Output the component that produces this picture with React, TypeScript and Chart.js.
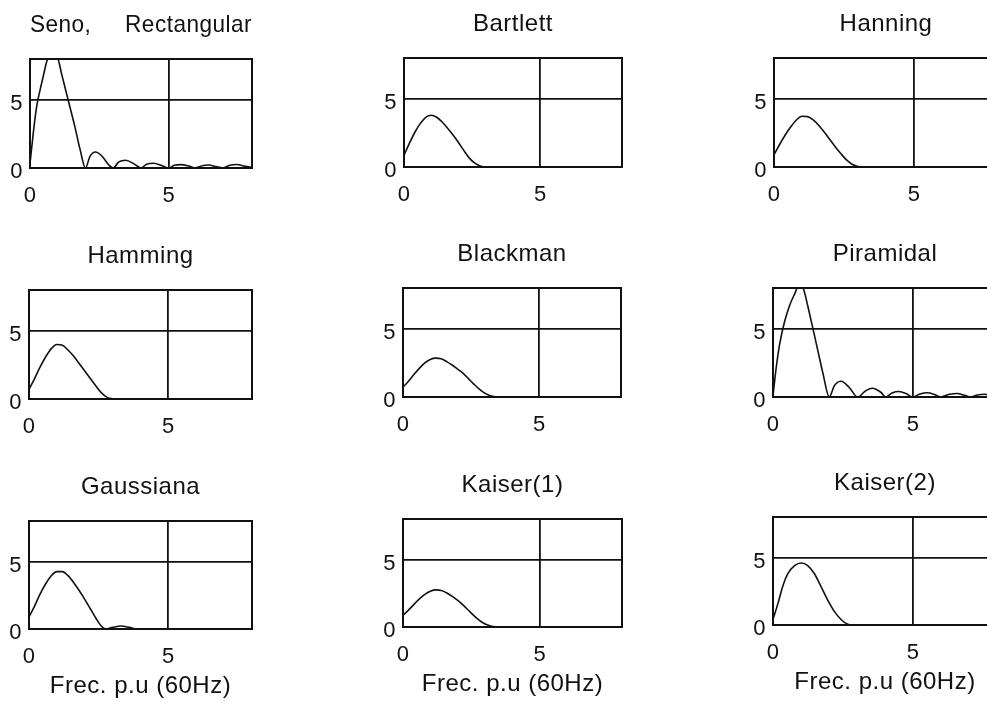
import React, { useEffect, useRef } from "react";
import { Chart, registerables } from "chart.js";

Chart.register(...registerables);

const FONT = '"Liberation Sans", Arial, Helvetica, sans-serif';
const INK = "#111";

// Axis ranges and tick values shared by every panel
const freqRange = [0, 8];
const magRange = [0, 8];
const xTickValues = [0, 5];
const yTickValues = [0, 5];
const xAxisTitle = "Frec. p.u (60Hz)";

// Spectrum magnitudes for each window (frequency in p.u. of 60 Hz)
const rectFreq = [0, 0.12, 0.24, 0.36, 0.48, 0.6, 0.8, 1.0, 1.14, 1.38, 1.62, 1.8, 2.0, 2.16, 2.36, 2.58, 2.85, 3.0, 3.2, 3.45, 3.75, 4.0, 4.2, 4.45, 4.75, 5.0, 5.2, 5.45, 5.75, 5.95, 6.2, 6.45, 6.7, 6.95, 7.2, 7.45, 7.75, 8.0];
const rectMag = [0.3, 2.6, 4.5, 5.7, 6.75, 7.8, 8.8, 8.1, 6.9, 4.95, 3.0, 1.4, 0, 0.85, 1.17, 0.9, 0.2, 0, 0.45, 0.57, 0.3, 0, 0.28, 0.35, 0.18, 0, 0.2, 0.25, 0.12, 0, 0.17, 0.22, 0.1, 0, 0.2, 0.26, 0.12, 0.05];

const bartFreq = [0, 0.2, 0.4, 0.6, 0.8, 1.0, 1.2, 1.4, 1.6, 1.8, 2.0, 2.2, 2.4, 2.6, 2.8, 3.0, 8.0];
const bartMag = [0.85, 1.75, 2.55, 3.2, 3.65, 3.8, 3.65, 3.3, 2.85, 2.35, 1.8, 1.2, 0.65, 0.28, 0.07, 0, 0];

const hannFreq = [0, 0.2, 0.4, 0.6, 0.8, 1.0, 1.2, 1.4, 1.6, 1.8, 2.0, 2.2, 2.4, 2.6, 2.8, 3.0, 3.2, 8.0];
const hannMag = [0.9, 1.65, 2.35, 2.95, 3.45, 3.72, 3.7, 3.45, 3.05, 2.55, 2.0, 1.45, 0.95, 0.5, 0.18, 0.03, 0, 0];

const hammFreq = [0, 0.2, 0.4, 0.6, 0.8, 1.0, 1.2, 1.4, 1.6, 1.8, 2.0, 2.2, 2.4, 2.6, 2.8, 3.0, 3.2, 8.0];
const hammMag = [0.7, 1.5, 2.35, 3.1, 3.7, 4.0, 3.95, 3.6, 3.15, 2.6, 2.05, 1.5, 0.95, 0.45, 0.12, 0.02, 0, 0];

const blackFreq = [0, 0.2, 0.4, 0.6, 0.8, 1.0, 1.2, 1.4, 1.6, 1.8, 2.0, 2.2, 2.4, 2.6, 2.8, 3.0, 3.2, 3.4, 3.6, 8.0];
const blackMag = [0.72, 1.15, 1.65, 2.1, 2.5, 2.75, 2.85, 2.8, 2.6, 2.35, 2.05, 1.75, 1.35, 0.95, 0.58, 0.28, 0.1, 0.02, 0, 0];

const piraFreq = [0, 0.12, 0.24, 0.41, 0.59, 0.77, 0.95, 1.1, 1.24, 1.42, 1.6, 1.78, 2.01, 2.19, 2.43, 2.72, 3.02, 3.32, 3.55, 3.85, 4.03, 4.25, 4.5, 4.75, 4.98, 5.25, 5.51, 5.75, 5.98, 6.3, 6.58, 6.85, 7.05, 7.3, 7.55, 7.8, 8.0];
const piraMag = [0.1, 2.24, 3.9, 5.5, 6.7, 7.55, 8.3, 7.85, 6.7, 5.07, 3.42, 1.77, 0, 0.83, 1.16, 0.71, 0, 0.47, 0.64, 0.35, 0, 0.3, 0.4, 0.25, 0, 0.22, 0.31, 0.2, 0, 0.2, 0.26, 0.12, 0, 0.15, 0.2, 0.1, 0.02];

const gaussFreq = [0, 0.2, 0.4, 0.6, 0.8, 1.0, 1.2, 1.4, 1.6, 1.8, 2.0, 2.2, 2.4, 2.6, 2.75, 3.0, 3.3, 3.6, 3.85, 8.0];
const gaussMag = [0.9, 1.7, 2.6, 3.35, 3.95, 4.25, 4.25, 3.95, 3.45, 2.85, 2.2, 1.5, 0.8, 0.2, 0, 0.12, 0.22, 0.12, 0, 0];

const kaiser1Freq = [0, 0.2, 0.4, 0.6, 0.8, 1.0, 1.2, 1.4, 1.6, 1.8, 2.0, 2.2, 2.4, 2.6, 2.8, 3.0, 3.2, 3.4, 3.6, 8.0];
const kaiser1Mag = [0.86, 1.25, 1.68, 2.08, 2.42, 2.65, 2.75, 2.7, 2.52, 2.27, 1.97, 1.62, 1.22, 0.82, 0.47, 0.22, 0.08, 0.02, 0, 0];

const kaiser2Freq = [0, 0.18, 0.36, 0.53, 0.77, 1.01, 1.24, 1.48, 1.72, 1.95, 2.19, 2.43, 2.67, 2.84, 8.0];
const kaiser2Mag = [0.41, 1.62, 2.95, 3.8, 4.4, 4.59, 4.4, 3.8, 2.83, 1.86, 1.01, 0.41, 0.05, 0, 0];

// Panel frame geometry (plot-area box in page pixels)
const TITLE_H = 55;
const LEFT_W = 30;
const RIGHT_PAD = 2;
const BOTTOM_H = 40;
const BOTTOM_H_TITLED = 75;

type PanelSpec = {
  title: string;
  freq: number[];
  mag: number[];
  left: number;
  top: number;
  width: number;
  height: number;
  xTitle: boolean;
};

const panels: PanelSpec[] = [
  { title: "Seno,     Rectangular", freq: rectFreq, mag: rectMag, left: 30, top: 58, width: 222, height: 110, xTitle: false },
  { title: "Bartlett", freq: bartFreq, mag: bartMag, left: 404, top: 57, width: 218, height: 110, xTitle: false },
  { title: "Hanning", freq: hannFreq, mag: hannMag, left: 774, top: 57, width: 224, height: 110, xTitle: false },
  { title: "Hamming", freq: hammFreq, mag: hammMag, left: 29, top: 289, width: 223, height: 110, xTitle: false },
  { title: "Blackman", freq: blackFreq, mag: blackMag, left: 403, top: 287, width: 218, height: 110, xTitle: false },
  { title: "Piramidal", freq: piraFreq, mag: piraMag, left: 773, top: 287, width: 224, height: 110, xTitle: false },
  { title: "Gaussiana", freq: gaussFreq, mag: gaussMag, left: 29, top: 520, width: 223, height: 109, xTitle: true },
  { title: "Kaiser(1)", freq: kaiser1Freq, mag: kaiser1Mag, left: 403, top: 518, width: 219, height: 109, xTitle: true },
  { title: "Kaiser(2)", freq: kaiser2Freq, mag: kaiser2Mag, left: 773, top: 516, width: 224, height: 109, xTitle: true },
];

// Full box around the plot area plus slightly wider letter spacing for labels
const framePlugin = {
  id: "frame",
  beforeDraw(chart: any) {
    chart.ctx.letterSpacing = "0.5px";
  },
  beforeDatasetsDraw(chart: any) {
    const { ctx, chartArea: a } = chart;
    ctx.save();
    ctx.strokeStyle = INK;
    ctx.lineWidth = 2;
    ctx.strokeRect(a.left, a.top, a.right - a.left, a.bottom - a.top);
    ctx.restore();
  },
};

function Panel({ spec }: { spec: PanelSpec }) {
  const ref = useRef<HTMLCanvasElement | null>(null);
  const bottomH = spec.xTitle ? BOTTOM_H_TITLED : BOTTOM_H;
  const cw = LEFT_W + spec.width + RIGHT_PAD;
  const ch = TITLE_H + spec.height + bottomH;

  useEffect(() => {
    if (!ref.current) return;
    const chart = new Chart(ref.current, {
      type: "line",
      data: {
        datasets: [
          {
            data: spec.freq.map((f, i) => ({ x: f, y: spec.mag[i] })),
            borderColor: INK,
            borderWidth: 1.6,
            pointRadius: 0,
            cubicInterpolationMode: "monotone",
            fill: false,
          },
        ],
      },
      options: {
        responsive: false,
        animation: false,
        devicePixelRatio: 1,
        events: [],
        layout: { padding: { top: 0, left: 0, right: RIGHT_PAD, bottom: 0 } },
        plugins: {
          legend: { display: false },
          tooltip: { enabled: false },
          title: {
            display: true,
            text: spec.title,
            color: INK,
            fullSize: false,
            font: { family: FONT, size: 24, weight: "normal", lineHeight: 1 },
            padding: { top: 10, bottom: 22 },
          },
        },
        scales: {
          x: {
            type: "linear",
            min: freqRange[0],
            max: freqRange[1],
            afterBuildTicks: (s: any) => {
              s.ticks = xTickValues.map((v) => ({ value: v }));
            },
            afterFit: (s: any) => {
              s.height = bottomH;
            },
            grid: { color: INK, lineWidth: 1.8, drawTicks: false },
            border: { display: false },
            ticks: {
              color: INK,
              font: { family: FONT, size: 22 },
              padding: 15,
              maxRotation: 0,
              autoSkip: false,
            },
            title: {
              display: spec.xTitle,
              text: xAxisTitle,
              color: INK,
              font: { family: FONT, size: 24, lineHeight: 1 },
              padding: { top: 0, bottom: 6 },
            },
          },
          y: {
            type: "linear",
            min: magRange[0],
            max: magRange[1],
            afterBuildTicks: (s: any) => {
              s.ticks = yTickValues.map((v) => ({ value: v }));
            },
            afterFit: (s: any) => {
              s.width = LEFT_W;
            },
            grid: { color: INK, lineWidth: 1.8, drawTicks: false },
            border: { display: false },
            ticks: {
              color: INK,
              font: { family: FONT, size: 22 },
              padding: 7,
              labelOffset: 4,
              autoSkip: false,
            },
          },
        },
      },
      plugins: [framePlugin],
    } as any);
    return () => chart.destroy();
  }, [spec, bottomH]);

  return (
    <canvas
      ref={ref}
      width={cw}
      height={ch}
      style={{
        position: "absolute",
        left: spec.left - LEFT_W,
        top: spec.top - TITLE_H,
        width: cw,
        height: ch,
      }}
    />
  );
}

export default function App() {
  return (
    <div
      style={{
        position: "fixed",
        left: 0,
        top: 0,
        width: 987,
        height: 702,
        overflow: "hidden",
        background: "#fff",
      }}
    >
      {panels.map((p) => (
        <Panel key={p.title} spec={p} />
      ))}
    </div>
  );
}
